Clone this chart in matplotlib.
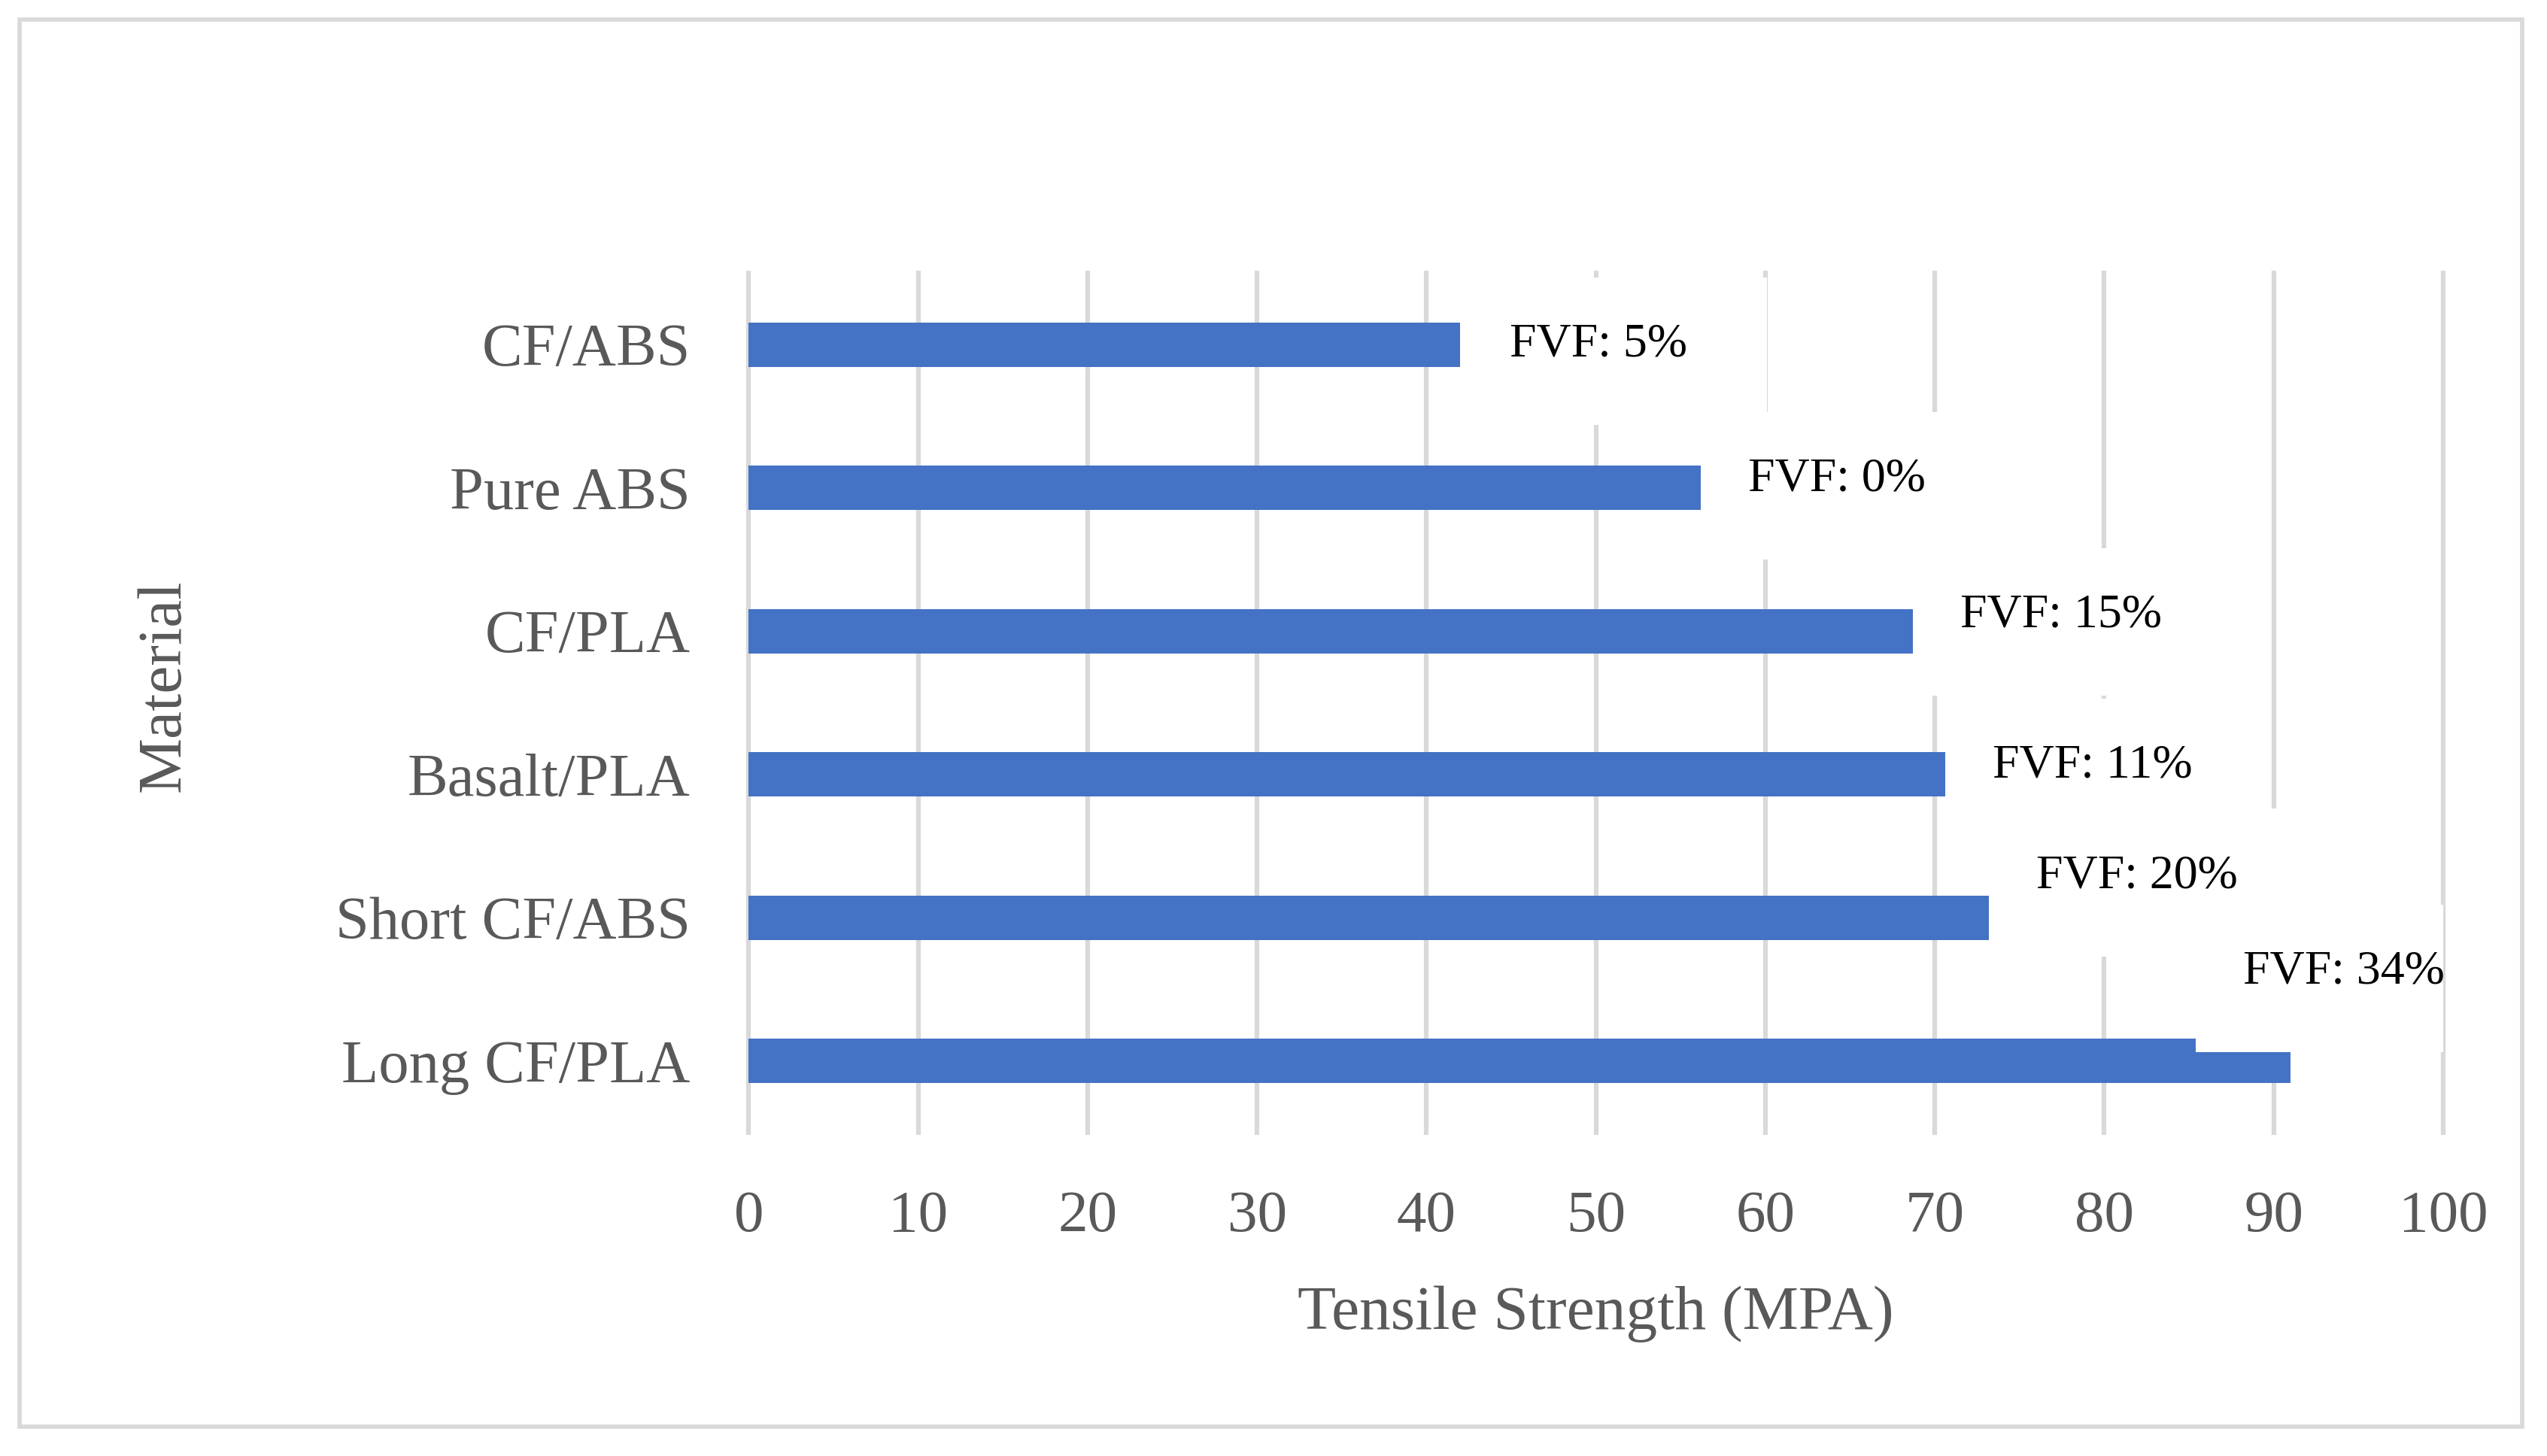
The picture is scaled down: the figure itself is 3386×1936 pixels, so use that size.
import numpy as np
import matplotlib.pyplot as plt
from matplotlib.patches import Rectangle

# bottom to top, same order as the chart
materials = ["Long CF/PLA", "Short CF/ABS", "Basalt/PLA", "CF/PLA", "Pure ABS", "CF/ABS"]
strength = [91.0, 73.2, 70.7, 68.7, 56.3, 42.0]
fvf_labels = ["FVF: 34%", "FVF: 20%", "FVF: 11%", "FVF: 15%", "FVF: 0%", "FVF: 5%"]

# where the data labels sit (left edge in MPa, shift up in category units)
label_x = [88.2, 76.0, 73.4, 71.5, 59.0, 44.9]
label_dy = [0.62, 0.29, 0.06, 0.11, 0.06, 0.0]

blue = "#4472C4"
grey_txt = "#595959"
grid_c = "#D9D9D9"

plt.rcParams['font.family'] = ['Liberation Serif', 'DejaVu Serif']

fig = plt.figure(figsize=(33.86, 19.36), dpi=100)
ax = fig.add_axes([0.294, 0.2221, 0.6652, 0.5904])

y = np.arange(len(materials))
ax.barh(y, strength, height=0.31, color=blue, zorder=2)

# white label boxes, they hide grid lines and a bit of the top bar
for i in range(len(materials)):
    ax.add_patch(Rectangle((label_x[i] - 2.8, y[i] + label_dy[i] - 0.56), 18, 1.03,
                           facecolor="white", edgecolor="none", zorder=3))
    ax.text(label_x[i], y[i] + label_dy[i], fvf_labels[i], ha="left", va="center",
            fontsize=46, color="black", zorder=4)

ax.set_xlim(0, 100)
ax.set_ylim(-0.5, 5.5)
ax.set_xticks(np.arange(0, 101, 10))
ax.set_yticks(y)
ax.set_yticklabels(materials)
ax.tick_params(axis="x", length=0, pad=55, labelsize=57, labelcolor=grey_txt)
ax.tick_params(axis="y", length=0, pad=56, labelsize=58, labelcolor=grey_txt)
ax.grid(axis="x", color=grid_c, lw=4.5)
ax.set_axisbelow(True)
for ln in ax.get_xgridlines():
    ln.set_clip_on(False)
for s in ax.spines.values():
    s.set_visible(False)

ax.set_xlabel("Tensile Strength (MPA)", fontsize=60, color=grey_txt)
ax.xaxis.set_label_coords(0.5, -0.178)
ax.set_ylabel("Material", fontsize=60, color=grey_txt)
ax.yaxis.set_label_coords(-0.328, 0.52)

fig.patches.append(Rectangle((0.0077, 0.0201), 0.9827, 0.9665, transform=fig.transFigure,
                             fill=False, edgecolor=grid_c, lw=4))

fig.savefig("out.png", dpi=100, facecolor="white")
